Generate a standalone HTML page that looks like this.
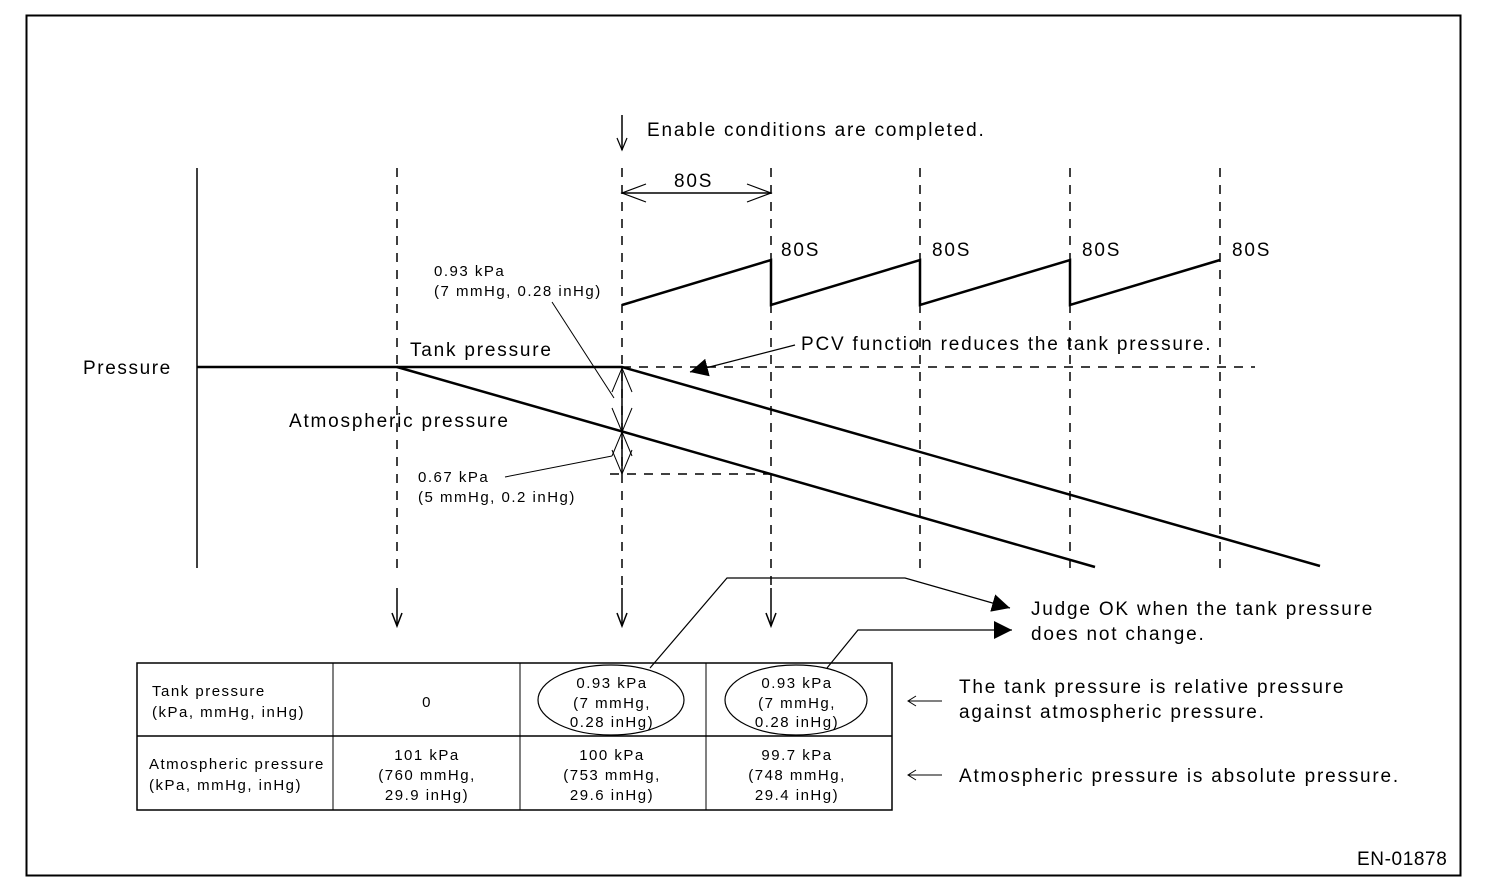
<!DOCTYPE html>
<html><head><meta charset="utf-8"><style>
html,body{margin:0;padding:0;background:#fff;}
svg{display:block;}
text{font-family:"Liberation Sans",Arial,sans-serif;fill:#000;}
.b{letter-spacing:1.8px;}
.s{letter-spacing:1.5px;}
</style></head><body>
<svg width="1504" height="894" viewBox="0 0 1504 894" xmlns="http://www.w3.org/2000/svg">
<defs>
<marker id="tri" viewBox="0 0 10 10" refX="10" refY="5" markerWidth="18" markerHeight="18" markerUnits="userSpaceOnUse" orient="auto"><path d="M0,0 L10,5 L0,10 z" fill="#000"/></marker>
</defs>
<rect x="26.5" y="15.5" width="1434" height="860" fill="none" stroke="#000" stroke-width="2"/>
<g stroke="#000" fill="none">
<line x1="197" y1="168" x2="197" y2="568" stroke-width="1.5"/>
<g stroke-width="1.5" stroke-dasharray="9,8">
<line x1="397" y1="168" x2="397" y2="570"/>
<line x1="622" y1="168" x2="622" y2="592"/>
<line x1="771" y1="168" x2="771" y2="592"/>
<line x1="920" y1="168" x2="920" y2="570"/>
<line x1="1070" y1="168" x2="1070" y2="570"/>
<line x1="1220" y1="168" x2="1220" y2="570"/>
<line x1="622" y1="367" x2="1255" y2="367"/>
<line x1="610" y1="474" x2="771" y2="474"/>
</g>
<polyline points="197,367 622,367 1320,566" stroke-width="2.5"/>
<line x1="397" y1="367" x2="1095" y2="567" stroke-width="2.5"/>
<polyline points="622,305 771,260 771,305 920,260 920,305 1070,260 1070,305 1220,260" stroke-width="2.5"/>
<line x1="622" y1="193" x2="771" y2="193" stroke-width="1.5"/>
<polyline points="646,184 622,193 646,202" stroke-width="1.2"/>
<polyline points="747,184 771,193 747,202" stroke-width="1.2"/>
<line x1="622" y1="115" x2="622" y2="150" stroke-width="1.5"/>
<polyline points="617,138 622,150 627,138" stroke-width="1.2"/>
<line x1="622" y1="368" x2="622" y2="474" stroke-width="1.5"/>
<polyline points="612,392 622,368 632,392" stroke-width="1"/>
<polyline points="612,408 622,432 632,408" stroke-width="1"/>
<polyline points="612,456 622,432 632,456" stroke-width="1"/>
<polyline points="612,450 622,474 632,450" stroke-width="1"/>
<line x1="552" y1="302" x2="614" y2="398" stroke-width="1"/>
<line x1="505" y1="477" x2="612" y2="456" stroke-width="1"/>
<line x1="795" y1="345" x2="690" y2="372" stroke-width="1.2" marker-end="url(#tri)"/>
<g stroke-width="1.5">
<line x1="397" y1="588" x2="397" y2="626"/><polyline points="392,613 397,626 402,613"/>
<line x1="622" y1="588" x2="622" y2="626"/><polyline points="617,613 622,626 627,613"/>
<line x1="771" y1="588" x2="771" y2="626"/><polyline points="766,613 771,626 776,613"/>
</g>
<rect x="137" y="663" width="755" height="147" stroke-width="1.5"/>
<line x1="137" y1="736" x2="892" y2="736" stroke-width="1.5"/>
<line x1="333" y1="663" x2="333" y2="810" stroke-width="1"/>
<line x1="520" y1="663" x2="520" y2="810" stroke-width="1"/>
<line x1="706" y1="663" x2="706" y2="810" stroke-width="1"/>
<ellipse cx="611" cy="700" rx="73" ry="35" stroke-width="1.2"/>
<ellipse cx="796" cy="700" rx="71" ry="35" stroke-width="1.2"/>
<polyline points="650,668 727,578 905,578 1010,608" stroke-width="1.2" marker-end="url(#tri)"/>
<polyline points="827,668 858,630 1012,630" stroke-width="1.2" marker-end="url(#tri)"/>
<g stroke-width="1">
<line x1="908" y1="701" x2="942" y2="701"/><polyline points="916,696 908,701 916,706"/>
<line x1="908" y1="775" x2="942" y2="775"/><polyline points="916,770 908,775 916,780"/>
</g>
</g>
<g font-size="19" class="b">
<text x="647" y="136">Enable conditions are completed.</text>
<text x="674" y="187">80S</text>
<text x="781" y="256">80S</text>
<text x="932" y="256">80S</text>
<text x="1082" y="256">80S</text>
<text x="1232" y="256">80S</text>
<text x="83" y="374" style="letter-spacing:1.6px">Pressure</text>
<text x="410" y="356">Tank pressure</text>
<text x="289" y="427">Atmospheric pressure</text>
<text x="801" y="350">PCV function reduces the tank pressure.</text>
<text x="1031" y="615">Judge OK when the tank pressure</text>
<text x="1031" y="640">does not change.</text>
<text x="959" y="693">The tank pressure is relative pressure</text>
<text x="959" y="718">against atmospheric pressure.</text>
<text x="959" y="782">Atmospheric pressure is absolute pressure.</text>
<text x="1357" y="865" style="letter-spacing:0.6px">EN-01878</text>
</g>
<g font-size="15" class="s">
<text x="434" y="276">0.93 kPa</text>
<text x="434" y="296">(7 mmHg, 0.28 inHg)</text>
<text x="418" y="482">0.67 kPa</text>
<text x="418" y="502">(5 mmHg, 0.2 inHg)</text>
<text x="152" y="696">Tank pressure</text>
<text x="152" y="717">(kPa, mmHg, inHg)</text>
<text x="149" y="769">Atmospheric pressure</text>
<text x="149" y="790">(kPa, mmHg, inHg)</text>
</g>
<g font-size="15" text-anchor="middle" class="s">
<text x="427" y="707">0</text>
<text x="612" y="688">0.93 kPa</text>
<text x="612" y="708">(7 mmHg,</text>
<text x="612" y="727">0.28 inHg)</text>
<text x="797" y="688">0.93 kPa</text>
<text x="797" y="708">(7 mmHg,</text>
<text x="797" y="727">0.28 inHg)</text>
<text x="427" y="760">101 kPa</text>
<text x="427" y="780">(760 mmHg,</text>
<text x="427" y="800">29.9 inHg)</text>
<text x="612" y="760">100 kPa</text>
<text x="612" y="780">(753 mmHg,</text>
<text x="612" y="800">29.6 inHg)</text>
<text x="797" y="760">99.7 kPa</text>
<text x="797" y="780">(748 mmHg,</text>
<text x="797" y="800">29.4 inHg)</text>
</g>
</svg>
</body></html>
